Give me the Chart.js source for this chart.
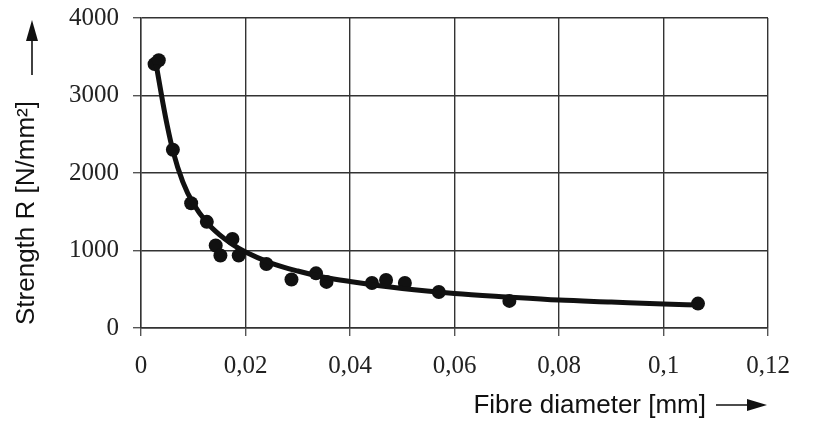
<!DOCTYPE html>
<html>
<head>
<meta charset="utf-8">
<script src="https://cdn.jsdelivr.net/npm/chart.js@4.4.1/dist/chart.umd.min.js"></script>
<style>
  body { margin: 0; background: #fff; }
  canvas { display: block; }
</style>
</head>
<body>
<canvas id="strengthChart" width="817" height="423"></canvas>
<script>
// measured points
const fibreDiameter = [0.0026, 0.0034, 0.0061, 0.0096, 0.0126, 0.0143, 0.0152, 0.0175, 0.0187, 0.0240,
                       0.0288, 0.0335, 0.0355, 0.0442, 0.0469, 0.0505, 0.0570, 0.0705, 0.1066];
const strength = [3405, 3455, 2300, 1610, 1370, 1065, 935, 1150, 935, 825,
                  625, 705, 595, 580, 620, 580, 465, 350, 315];

// fitted curve
const fitDiameter = [0.0029, 0.0042, 0.005, 0.0061, 0.008, 0.01, 0.0125, 0.015, 0.0175, 0.02, 0.025,
                     0.03, 0.035, 0.04, 0.05, 0.06, 0.07, 0.08, 0.09, 0.1, 0.1066];
const fitStrength = [3400, 2900, 2620, 2290, 1885, 1605, 1370, 1205, 1080, 980, 835,
                     735, 655, 600, 510, 445, 400, 360, 335, 310, 297];

const xTitle = 'Fibre diameter [mm]';
const yTitle = 'Strength R [N/mm\u00b2]';

function toPoints(xs, ys){
    let pts = [];
    for (let i = 0; i < xs.length; i++) {
        pts.push({x: xs[i], y: ys[i]});
    }
    return pts;
}

// axis titles with the little arrows
const axisTitles = {
    id: 'axisTitles',
    afterDraw(chart){
        const ctx = chart.ctx;
        const area = chart.chartArea;
        ctx.save();
        ctx.fillStyle = '#111';
        ctx.strokeStyle = '#111';
        ctx.font = '26px "Liberation Sans", Arial, sans-serif';
        ctx.textBaseline = 'middle';

        // x title
        ctx.textAlign = 'right';
        const xEnd = area.right;
        const ty = 406;
        ctx.fillText(xTitle, xEnd - 62, ty);
        ctx.lineWidth = 1.6;
        ctx.beginPath();
        ctx.moveTo(xEnd - 52, ty - 1);
        ctx.lineTo(xEnd - 18, ty - 1);
        ctx.stroke();
        ctx.beginPath();
        ctx.moveTo(xEnd - 21, ty - 7);
        ctx.lineTo(xEnd - 1, ty - 1);
        ctx.lineTo(xEnd - 21, ty + 5);
        ctx.closePath();
        ctx.fill();

        // y title
        ctx.save();
        ctx.translate(27, area.bottom);
        ctx.rotate(-Math.PI / 2);
        ctx.textAlign = 'left';
        ctx.fillText(yTitle, 3, 0);
        ctx.restore();
        ctx.beginPath();
        ctx.moveTo(32, 75);
        ctx.lineTo(32, 38);
        ctx.stroke();
        ctx.beginPath();
        ctx.moveTo(26, 41);
        ctx.lineTo(32, 20);
        ctx.lineTo(38, 41);
        ctx.closePath();
        ctx.fill();
        ctx.restore();
    }
};

const ctx = document.getElementById('strengthChart');
new Chart(ctx, {
    type: 'scatter',
    data: {
        datasets: [{
            label: 'fit',
            data: toPoints(fitDiameter, fitStrength),
            showLine: true,
            borderColor: '#111',
            borderWidth: 5,
            pointRadius: 0,
            tension: 0.4,
            cubicInterpolationMode: 'monotone'
        },{
            label: 'measured',
            data: toPoints(fibreDiameter, strength),
            backgroundColor: '#111',
            borderColor: '#111',
            pointRadius: 7,
            borderWidth: 0
        }]
    },
    options: {
        responsive: false,
        animation: false,
        layout: { padding: { top: 18, right: 49, left: 0, bottom: 0 } },
        plugins: {
            legend: { display: false },
            tooltip: { enabled: false }
        },
        scales: {
            x: {
                type: 'linear',
                min: 0,
                max: 0.12,
                afterFit: function(scale){ scale.height = 95; },
                grid: { color: '#333', lineWidth: 1.4, tickLength: 8, tickColor: '#555' },
                border: { color: '#333', width: 1.4 },
                ticks: {
                    stepSize: 0.02,
                    padding: 15,
                    color: '#222',
                    font: { family: '"Liberation Serif", "Times New Roman", serif', size: 25 },
                    callback: function(value){
                        return String(Number(value.toFixed(2))).replace('.', ',');
                    }
                }
            },
            y: {
                min: 0,
                max: 4000,
                afterFit: function(scale){
                    scale.width = 141;
                    scale.paddingTop = 0;
                    scale.paddingBottom = 0;
                },
                grid: { color: '#333', lineWidth: 1.4, tickLength: 8, tickColor: '#555' },
                border: { color: '#333', width: 1.4 },
                ticks: {
                    stepSize: 1000,
                    padding: 14,
                    color: '#222',
                    font: { family: '"Liberation Serif", "Times New Roman", serif', size: 25 },
                    callback: function(value){
                        return String(value);
                    }
                }
            }
        }
    },
    plugins: [axisTitles]
});
</script>
</body>
</html>
